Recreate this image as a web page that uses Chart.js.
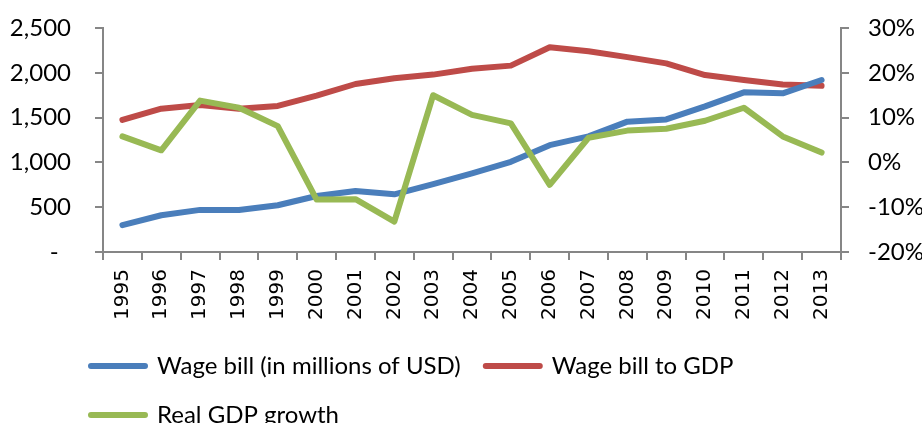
<!DOCTYPE html>
<html>
<head>
<meta charset="utf-8">
<script src="https://cdn.jsdelivr.net/npm/chart.js@4/dist/chart.umd.min.js"></script>
<style>
  html, body { margin: 0; padding: 0; background: #fff; overflow: hidden; }
  #wrap { position: relative; width: 922px; height: 423px; }
</style>
</head>
<body>
<div id="wrap"><canvas id="wageChart" width="922" height="423"></canvas></div>
<script>
(function () {
  "use strict";

  const years = ["1995", "1996", "1997", "1998", "1999", "2000", "2001", "2002", "2003", "2004",
    "2005", "2006", "2007", "2008", "2009", "2010", "2011", "2012", "2013"];

  // millions of USD (left axis)
  const wageBill = [300, 410, 470, 468, 522, 625, 680, 644, 757, 878,
    1006, 1192, 1290, 1455, 1480, 1625, 1782, 1771, 1920];

  // percent (right axis)
  const wageBillToGdp = [9.5, 12.0, 12.8, 12.0, 12.6, 14.9, 17.5, 18.8, 19.6, 20.9,
    21.6, 25.7, 24.8, 23.5, 22.1, 19.5, 18.4, 17.4, 17.1];
  const realGdpGrowth = [5.8, 2.7, 13.8, 12.2, 8.1, -8.3, -8.2, -13.2, 15.0, 10.6,
    8.7, -5.0, 5.5, 7.1, 7.5, 9.3, 12.2, 5.8, 2.2];

  const leftTicks = [0, 500, 1000, 1500, 2000, 2500];
  const rightTicks = [-20, -10, 0, 10, 20, 30];

  const axisGrey = "#868686";

  // legend sits indented under the plot, not flush with the canvas edge
  const legendIndent = {
    id: "legendIndent",
    afterLayout: function (chart) {
      if (chart.legend) chart.legend.left = 66;
    }
  };

  // fixed-width value axes, no extra padding above/below the plot
  function fixAxisWidth(width) {
    return function (scale) {
      scale.width = width;
      scale.paddingTop = 0;
      scale.paddingBottom = 0;
    };
  }

  const ctx = document.getElementById("wageChart").getContext("2d");

  const lineStyle = {
    borderWidth: 6,
    pointRadius: 0,
    pointHoverRadius: 0,
    tension: 0,
    fill: false,
    borderCapStyle: "round",
    borderJoinStyle: "round"
  };

  new Chart(ctx, {
    type: "line",
    data: {
      labels: years,
      datasets: [
        Object.assign({
          label: "Wage bill (in millions of USD)",
          data: wageBill,
          borderColor: "#4A7EBB",
          backgroundColor: "#4A7EBB",
          yAxisID: "y",
          order: 1
        }, lineStyle),
        Object.assign({
          label: "Wage bill to GDP",
          data: wageBillToGdp,
          borderColor: "#BE4B48",
          backgroundColor: "#BE4B48",
          yAxisID: "y1",
          order: 2
        }, lineStyle),
        Object.assign({
          label: "Real GDP growth",
          data: realGdpGrowth,
          borderColor: "#98B954",
          backgroundColor: "#98B954",
          yAxisID: "y1",
          order: 0
        }, lineStyle)
      ]
    },
    plugins: [legendIndent],
    options: {
      responsive: false,
      animation: false,
      devicePixelRatio: 1,
      layout: {
        autoPadding: false,
        padding: { top: 28, left: 0, right: 0, bottom: 0 }
      },
      plugins: {
        tooltip: { enabled: false },
        legend: {
          position: "bottom",
          align: "start",
          maxHeight: 94,
          labels: {
            sort: function (a, b) { return a.datasetIndex - b.datasetIndex; },
            boxWidth: 54,
            boxHeight: 0,
            padding: 25,
            color: "#000",
            font: { family: "Lato", size: 24 }
          }
        }
      },
      scales: {
        x: {
          offset: true,
          grid: {
            offset: true,
            drawOnChartArea: false,
            drawTicks: true,
            tickLength: 8,
            color: axisGrey,
            lineWidth: 2
          },
          border: { color: axisGrey, width: 2 },
          ticks: {
            minRotation: 90,
            maxRotation: 90,
            autoSkip: false,
            padding: 9,
            color: "#000",
            font: { family: "DejaVu Sans", size: 20 }
          },
          afterFit: function (scale) { scale.height = 77; }
        },
        y: {
          position: "left",
          min: 0,
          max: 2500,
          afterBuildTicks: function (scale) {
            scale.ticks = leftTicks.map(function (v) { return { value: v }; });
          },
          grid: {
            drawOnChartArea: false,
            drawTicks: true,
            tickLength: 8,
            color: axisGrey,
            lineWidth: 2
          },
          border: { color: axisGrey, width: 2 },
          ticks: {
            padding: 24,
            color: "#000",
            font: { family: "Lato", size: 24 },
            callback: function (value) {
              return value === 0 ? "-  " : value.toLocaleString("en-US");
            }
          },
          afterFit: fixAxisWidth(103)
        },
        y1: {
          position: "right",
          min: -20,
          max: 30,
          afterBuildTicks: function (scale) {
            scale.ticks = rightTicks.map(function (v) { return { value: v }; });
          },
          grid: {
            drawOnChartArea: false,
            drawTicks: true,
            tickLength: 8,
            color: axisGrey,
            lineWidth: 2
          },
          border: { color: axisGrey, width: 2 },
          ticks: {
            padding: 19,
            color: "#000",
            font: { family: "Lato", size: 24 },
            callback: function (value) { return value + "%"; }
          },
          afterFit: fixAxisWidth(81)
        }
      }
    }
  });
})();
</script>
</body>
</html>
